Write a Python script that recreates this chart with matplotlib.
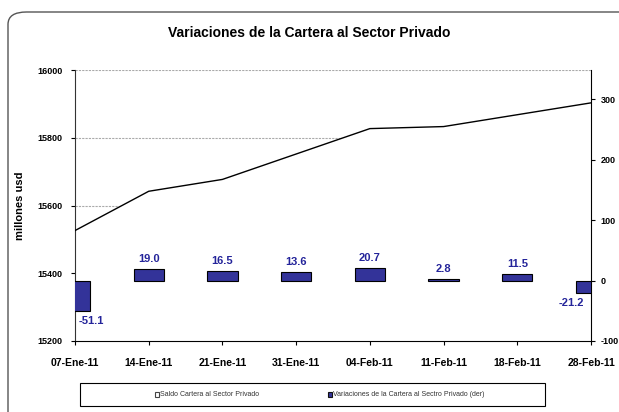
import matplotlib
matplotlib.use("Agg")
import matplotlib.pyplot as plt
from matplotlib.patches import FancyBboxPatch, Rectangle
import numpy as np

plt.rcParams['font.family'] = ['Liberation Sans', 'DejaVu Sans']

categories = ["07-Ene-11", "14-Ene-11", "21-Ene-11", "31-Ene-11",
              "04-Feb-11", "11-Feb-11", "18-Feb-11", "28-Feb-11"]
saldo = [15526, 15642, 15677, 15752, 15827, 15833, 15868, 15903]
variaciones = [-51.1, 19.0, 16.5, 13.6, 20.7, 2.8, 11.5, -21.2]

fig = plt.figure(figsize=(6.19, 4.12), dpi=100)
ax = fig.add_axes([75/619, 1-341/412, (591-75)/619, (341-70)/412])
x = np.arange(len(categories))

ax.set_ylim(15200, 16000)
ax.set_xlim(0, len(categories)-1)
for yv in [15400, 15600, 15800, 16000]:
    ax.axhline(yv, color='#aaaaaa', lw=0.8, ls=(0, (2, 1)), zorder=1)
ax.fill_between(x, saldo, 15200, color='white', zorder=2)
ax.plot(x, saldo, color='black', lw=1.0, zorder=3)

ax.set_yticks([15200, 15400, 15600, 15800, 16000])
ax.set_yticklabels([str(v) for v in [15200, 15400, 15600, 15800, 16000]],
                   fontsize=6.5, fontweight='bold')
ax.set_xticks(x)
ax.set_xticklabels(categories, fontsize=7.5, fontweight='bold')
ax.tick_params(axis='x', length=3, pad=9)
ax.tick_params(axis='y', length=3, pad=6)
ax.spines['top'].set_visible(False)
ax.spines['right'].set_visible(False)
ax.spines['left'].set_color('#333333')
ax.set_ylabel('millones usd', fontsize=8, fontweight='bold')
ax.yaxis.set_label_coords(-0.097, 0.5)

ax2 = ax.twinx()
ax2.set_ylim(-100, 348)
ax2.set_xlim(0, len(categories)-1)
ax2.bar(x, variaciones, width=0.41, color='#333399', edgecolor='black',
        linewidth=0.8, zorder=3)
n = len(categories)
for xi, v in zip(x, variaciones):
    lx = xi
    if xi == 0:
        lx = xi + 0.22
    elif xi == n - 1:
        lx = xi - 0.27
    if v >= 0:
        ax2.text(lx, v + 8, f"{v:.1f}", ha='center', va='bottom',
                 fontsize=8, fontweight='bold', color='#24249A')
    else:
        ax2.text(lx, v - 7, f"{v:.1f}", ha='center', va='top',
                 fontsize=8, fontweight='bold', color='#24249A')
ax2.set_yticks([-100, 0, 100, 200, 300])
ax2.set_yticklabels(['-100', '0', '100', '200', '300'], fontsize=6.5, fontweight='bold')
ax2.tick_params(axis='y', length=3, pad=4)
ax2.spines['top'].set_visible(False)
ax2.spines['left'].set_visible(False)
ax2.spines['bottom'].set_visible(False)

fig.text(0.5, 1-33/412, 'Variaciones de la Cartera al Sector Privado',
         ha='center', va='center', fontsize=10, fontweight='bold')

frame = FancyBboxPatch((8/619, -0.05), 1.1, 1-12/412+0.05,
                       boxstyle="round,pad=0,rounding_size=0.03",
                       transform=fig.transFigure, fill=False,
                       edgecolor='#555555', lw=1.0, clip_on=False)
fig.patches.append(frame)

lx0, lx1 = 80/619, 545/619
ly0, ly1 = 1-406/412, 1-383/412
fig.patches.append(Rectangle((lx0, ly0), lx1-lx0, ly1-ly0,
                             transform=fig.transFigure, fill=False,
                             edgecolor='black', lw=0.8))
yc = (ly0+ly1)/2
fig.patches.append(Rectangle((155/619, yc-0.006), 0.007, 0.012,
                             transform=fig.transFigure, facecolor='white',
                             edgecolor='#444444', lw=0.8))
fig.text(160/619, yc, 'Saldo Cartera al Sector Privado', fontsize=5,
         va='center', ha='left', color='#333333')
fig.patches.append(Rectangle((328/619, yc-0.006), 0.007, 0.012,
                             transform=fig.transFigure, facecolor='#333399',
                             edgecolor='#111111', lw=0.8))
fig.text(333/619, yc, 'Variaciones de la Cartera al Sectro Privado (der)', fontsize=5,
         va='center', ha='left', color='#333333')

fig.savefig('out.png', dpi=100)
